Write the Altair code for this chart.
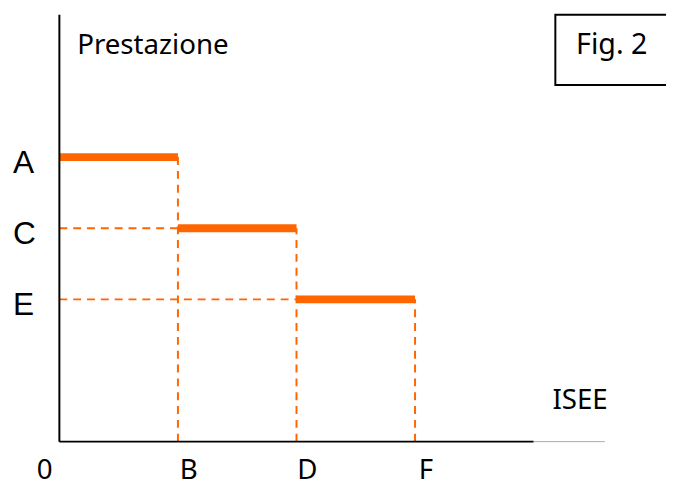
import altair as alt
import pandas as pd

# ---- data ----
step_start = [0, 1, 2]
step_end = [1, 2, 3]
step_level = [4, 3, 2]
level_labels = ["A", "C", "E"]
isee_ticks = [0, 1, 2, 3]
isee_labels = ["0", "B", "D", "F"]

steps = pd.DataFrame({"start": step_start, "end": step_end,
                      "level": step_level, "lab": level_labels})
xlab = pd.DataFrame({"tick": isee_ticks, "lab": isee_labels})
one = pd.DataFrame({"a": [0]})

# ---- geometry of the canvas ----
W, H = 666, 478
X0, Y0 = 52, 436      # origin in chart pixels
XS, YS = 120, 72      # pixels per unit
xs = alt.Scale(domain=[-X0 / XS, (W - X0) / XS], nice=False, zero=False)
ys = alt.Scale(domain=[-(H - Y0) / YS, Y0 / YS], nice=False, zero=False)

OR = "#FF6600"
SANS = "Noto Sans"
ARIAL = "Liberation Sans"

base = alt.Chart(steps)

hdash = base.transform_filter("datum.start > 0").transform_calculate(z="0").mark_rule(
    color=OR, strokeWidth=2, strokeDash=[8, 6]
).encode(
    x=alt.X("z:Q", scale=xs, axis=None), x2="start:Q",
    y=alt.Y("level:Q", scale=ys, axis=None),
)

vdash = base.transform_calculate(z="0").mark_rule(
    color=OR, strokeWidth=2, strokeDash=[8, 6]
).encode(
    x=alt.X("end:Q", scale=xs, axis=None),
    y=alt.Y("z:Q", scale=ys, axis=None), y2="level:Q",
)

seg = base.mark_rule(color=OR, strokeWidth=8, strokeCap="butt").encode(
    x=alt.X("start:Q", scale=xs, axis=None), x2="end:Q",
    y=alt.Y("level:Q", scale=ys, axis=None),
)

yaxis = alt.Chart(one).mark_rule(color="black", strokeWidth=2).encode(
    x=alt.X(datum=0, scale=xs, axis=None),
    y=alt.Y(datum=0, scale=ys, axis=None), y2=alt.Y2(datum=6),
)
xaxis = alt.Chart(one).mark_rule(color="black", strokeWidth=2).encode(
    x=alt.X(datum=0, scale=xs, axis=None), x2=alt.X2(datum=4),
    y=alt.Y(datum=0, scale=ys, axis=None),
)
xaxis_ext = alt.Chart(one).mark_rule(color="#A8A8A8", strokeWidth=1).encode(
    x=alt.X(datum=4, scale=xs, axis=None), x2=alt.X2(datum=4.6),
    y=alt.Y(datum=0, scale=ys, axis=None),
)

ylabels = base.mark_text(font=ARIAL, fontSize=32, align="left",
                         baseline="alphabetic", dy=16, color="black").encode(
    x=alt.value(5),
    y=alt.Y("level:Q", scale=ys, axis=None),
    text="lab:N",
)

xlab0 = alt.Chart(xlab).transform_filter("datum.tick == 0").mark_text(
    font=SANS, fontSize=28, align="center", baseline="alphabetic", dx=-15, color="black"
).encode(x=alt.X("tick:Q", scale=xs, axis=None), y=alt.value(474), text="lab:N")

xlabs = alt.Chart(xlab).transform_filter("datum.tick > 0").mark_text(
    font=SANS, fontSize=28, align="center", baseline="alphabetic", dx=11, color="black"
).encode(x=alt.X("tick:Q", scale=xs, axis=None), y=alt.value(474), text="lab:N")

ytitle = alt.Chart(one).mark_text(font=SANS, fontSize=28, align="left",
                                  baseline="alphabetic", color="black").encode(
    x=alt.value(70), y=alt.value(44), text=alt.value("Prestazione"))
xtitle = alt.Chart(one).mark_text(font=SANS, fontSize=28, align="left",
                                  baseline="alphabetic", color="black").encode(
    x=alt.value(551), y=alt.value(403), text=alt.value("ISEE"))

box = alt.Chart(one).mark_rect(fill="white", stroke="black", strokeWidth=2).encode(
    x=alt.value(554), x2=alt.value(720), y=alt.value(4), y2=alt.value(75))
figtxt = alt.Chart(one).mark_text(font=SANS, fontSize=29, align="left",
                                  baseline="alphabetic", color="black").encode(
    x=alt.value(575), y=alt.value(44), text=alt.value("Fig. 2"))

chart = alt.layer(
    hdash, vdash, seg, yaxis, xaxis, xaxis_ext,
    ylabels, xlab0, xlabs, ytitle, xtitle, box, figtxt,
).properties(
    width=W, height=H, padding=0, autosize="none", background="white"
).configure_view(stroke=None)

chart.save("out.html", embed_options={"renderer": "svg", "actions": False})
